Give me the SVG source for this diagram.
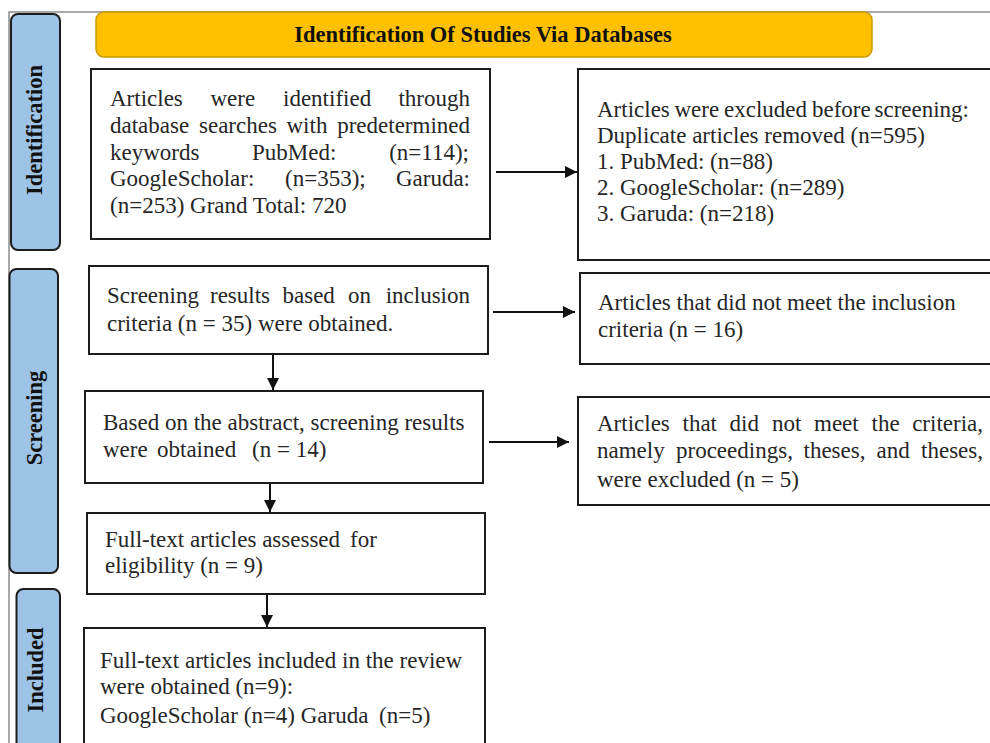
<svg xmlns="http://www.w3.org/2000/svg" width="990" height="743" viewBox="0 0 990 743">
<style>
.frame{fill:none;stroke:#8c8c8c;stroke-width:1.5}
.box{fill:#fff;stroke:#1c1c1c;stroke-width:2}
.side{fill:#9dc3e6;stroke:#1c1c1c;stroke-width:2}
.hdr{fill:#ffc000;stroke:#c99a00;stroke-width:1.5}
.t{font-family:"Liberation Serif","Times New Roman",serif;font-size:23px;fill:#262626}
.b{font-family:"Liberation Serif","Times New Roman",serif;font-size:22.5px;font-weight:bold;fill:#111}
.c{stroke:#111;stroke-width:2;fill:none}
</style>
<defs>
<marker id="ah" viewBox="0 0 10 10" markerUnits="userSpaceOnUse" markerWidth="12" markerHeight="12" refX="10" refY="5" orient="auto">
<path d="M0,0 L10,5 L0,10 z" fill="#111"/>
</marker>
</defs>
<rect width="990" height="743" fill="#fff"/>
<path class="frame" d="M9,743 V12 H990"/>

<g id="side-identification">
<rect class="side" x="11" y="14" width="49" height="236" rx="7"/>
<text class="b" text-anchor="middle" transform="translate(42,130) rotate(-90)">Identification</text>
</g>
<g id="side-screening">
<rect class="side" x="9.5" y="269" width="48.5" height="304" rx="7"/>
<text class="b" text-anchor="middle" transform="translate(42,418) rotate(-90)">Screening</text>
</g>
<g id="side-included">
<rect class="side" x="16.5" y="589" width="43.5" height="175" rx="7"/>
<text class="b" text-anchor="middle" transform="translate(43,670) rotate(-90)">Included</text>
</g>

<g id="header">
<rect class="hdr" x="96" y="12" width="776" height="45" rx="8"/>
<text class="b" x="483" y="41.5" text-anchor="middle">Identification Of Studies Via Databases</text>
</g>

<g id="identified">
<rect class="box" x="91" y="69" width="399" height="170"/>
<text class="t" y="106"><tspan x="110">Articles</tspan><tspan x="210.5">were</tspan><tspan x="283">identified</tspan><tspan x="470" text-anchor="end">through</tspan></text>
<text class="t" y="133"><tspan x="110">database</tspan><tspan x="199">searches</tspan><tspan x="286.5">with</tspan><tspan x="470" text-anchor="end">predetermined</tspan></text>
<text class="t" y="160"><tspan x="110">keywords</tspan><tspan x="252">PubMed:</tspan><tspan x="469" text-anchor="end">(n=114);</tspan></text>
<text class="t" y="186"><tspan x="110">GoogleScholar:</tspan><tspan x="285">(n=353);</tspan><tspan x="470" text-anchor="end">Garuda:</tspan></text>
<text class="t" x="110" y="213">(n=253) Grand Total: 720</text>
</g>

<g id="excluded-before">
<rect class="box" x="578" y="69" width="430" height="191"/>
<text class="t" y="117"><tspan x="597">Articles</tspan><tspan x="674.5">were</tspan><tspan x="724">excluded</tspan><tspan x="812">before</tspan><tspan x="969" text-anchor="end">screening:</tspan></text>
<text class="t" x="597" y="143">Duplicate articles removed (n=595)</text>
<text class="t" x="597" y="169">1. PubMed: (n=88)</text>
<text class="t" x="597" y="195">2. GoogleScholar: (n=289)</text>
<text class="t" x="597" y="221">3. Garuda:  (n=218)</text>
</g>

<g id="screening-inclusion">
<rect class="box" x="89" y="266" width="399" height="88"/>
<text class="t" y="303"><tspan x="107">Screening</tspan><tspan x="210">results</tspan><tspan x="282.5">based</tspan><tspan x="348">on</tspan><tspan x="470" text-anchor="end">inclusion</tspan></text>
<text class="t" x="107" y="331">criteria (n = 35) were obtained.</text>
</g>

<g id="not-inclusion">
<rect class="box" x="580" y="273" width="430" height="91"/>
<text class="t" x="598" y="310">Articles that did not meet the inclusion</text>
<text class="t" x="598" y="337">criteria (n = 16)</text>
</g>

<g id="abstract">
<rect class="box" x="85" y="391" width="398" height="92"/>
<text class="t" x="103" y="430">Based on the abstract, screening results</text>
<text class="t" y="457"><tspan x="103">were</tspan><tspan x="157">obtained</tspan><tspan x="252">(n = 14)</tspan></text>
</g>

<g id="not-criteria">
<rect class="box" x="578" y="397" width="430" height="108"/>
<text class="t" y="431"><tspan x="597">Articles</tspan><tspan x="682.5">that</tspan><tspan x="729.5">did</tspan><tspan x="772">not</tspan><tspan x="814">meet</tspan><tspan x="871.5">the</tspan><tspan x="983" text-anchor="end">criteria,</tspan></text>
<text class="t" y="458"><tspan x="597">namely</tspan><tspan x="676">proceedings,</tspan><tspan x="803.5">theses,</tspan><tspan x="876.5">and</tspan><tspan x="983" text-anchor="end">theses,</tspan></text>
<text class="t" x="597" y="487">were excluded (n = 5)</text>
</g>

<g id="fulltext-assessed">
<rect class="box" x="87" y="513" width="398" height="81"/>
<text class="t" y="547"><tspan x="105">Full-text articles assessed</tspan><tspan x="350">for</tspan></text>
<text class="t" x="105" y="573">eligibility (n = 9)</text>
</g>

<g id="included">
<rect class="box" x="84" y="628" width="401" height="130"/>
<text class="t" x="100" y="668">Full-text articles included in the review</text>
<text class="t" x="100" y="694">were obtained (n=9):</text>
<text class="t" y="723"><tspan x="100">GoogleScholar (n=4) Garuda</tspan><tspan x="379">(n=5)</tspan></text>
</g>

<g id="connectors">
<line class="c" x1="496" y1="172" x2="577" y2="172" marker-end="url(#ah)"/>
<line class="c" x1="493" y1="312" x2="575" y2="312" marker-end="url(#ah)"/>
<line class="c" x1="489" y1="442" x2="569" y2="442" marker-end="url(#ah)"/>
<line class="c" x1="273" y1="355" x2="273" y2="390" marker-end="url(#ah)"/>
<line class="c" x1="270" y1="484" x2="270" y2="512" marker-end="url(#ah)"/>
<line class="c" x1="267" y1="595" x2="267" y2="627" marker-end="url(#ah)"/>
</g>
</svg>
